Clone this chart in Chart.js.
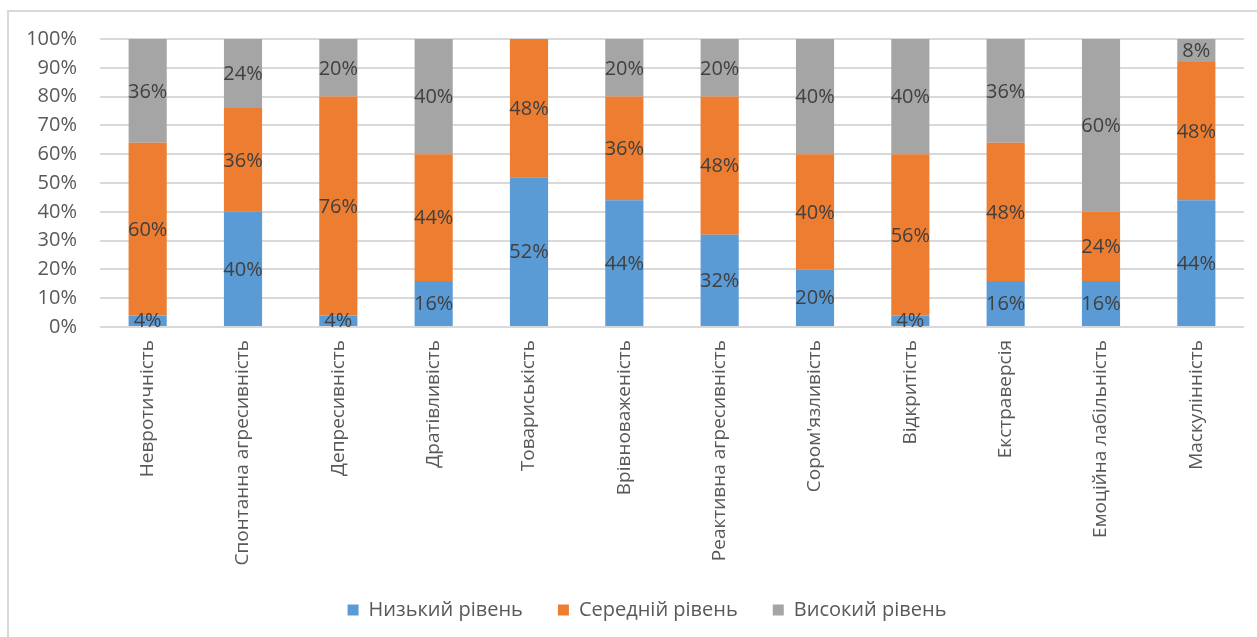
<!DOCTYPE html>
<html lang="uk">
<head>
<meta charset="utf-8">
<title>Рівні особистісних властивостей</title>
<script src="https://cdn.jsdelivr.net/npm/chart.js@4.4.1/dist/chart.umd.min.js"></script>
<style>
  html, body { margin: 0; padding: 0; background: #fff; }
  .stage { position: relative; width: 1257px; height: 637px; overflow: hidden; }
  /* Excel-style chart frame, only left/top edges fall inside the shot */
  .frame { position: absolute; left: 7px; top: 10px; width: 1400px; height: 800px;
           border-left: 2px solid #d9d9d9; border-top: 2px solid #d9d9d9; }
  #chart { position: absolute; left: 0; top: 0; }
</style>
</head>
<body>
<div class="stage">
  <div class="frame"></div>
  <canvas id="chart" width="1257" height="637"></canvas>
</div>
<script>
/* ── data ──────────────────────────────────────────────────────────────── */
const categories = [
  "Невротичність", "Спонтанна агресивність", "Депресивність", "Дратівливість",
  "Товариськість", "Врівноваженість", "Реактивна агресивність", "Сором'язливість",
  "Відкритість", "Екстраверсія", "Емоційна лабільність", "Маскулінність",
];
const seriesNames = ["Низький рівень", "Середній рівень", "Високий рівень"];
const lowLevel    = [4, 40, 4, 16, 52, 44, 32, 20, 4, 16, 16, 44];
const midLevel    = [60, 36, 76, 44, 48, 36, 48, 40, 56, 48, 24, 48];
const highLevel   = [36, 24, 20, 40, 0, 20, 20, 40, 40, 36, 60, 8];
const yTicks      = [0, 10, 20, 30, 40, 50, 60, 70, 80, 90, 100];

const colors = ["#5b9bd5", "#ed7d31", "#a5a5a5"];
const FONT = '"Open Sans", "DejaVu Sans", sans-serif';
const INK = "#595959";

/* value labels centred inside each stacked segment (no zero labels) */
const segmentLabels = {
  id: "segmentLabels",
  afterDatasetsDraw(chart) {
    const { ctx } = chart;
    ctx.save();
    ctx.font = `20px ${FONT}`;
    ctx.fillStyle = "#404040";
    ctx.textAlign = "center";
    ctx.textBaseline = "middle";
    chart.data.datasets.forEach((ds, i) => {
      chart.getDatasetMeta(i).data.forEach((bar, j) => {
        const v = ds.data[j];
        if (!v) return;
        const p = bar.getCenterPoint();
        ctx.fillText(v + "%", p.x, p.y + 1);
      });
    });
    ctx.restore();
  },
};

/* Excel centres the legend a bit right of the canvas middle */
const legendNudge = {
  id: "legendNudge",
  afterLayout(chart) {
    if (chart.legend) chart.legend.left += 50;
  },
};

new Chart(document.getElementById("chart"), {
  type: "bar",
  data: {
    labels: categories,
    datasets: [lowLevel, midLevel, highLevel].map((data, i) => ({
      label: seriesNames[i],
      data,
      backgroundColor: colors[i],
      borderWidth: 0,
      barPercentage: 0.4,
      categoryPercentage: 1,
    })),
  },
  options: {
    responsive: false,
    animation: false,
    layout: { padding: { top: 39, right: 13, bottom: 7, left: 0 } },
    plugins: {
      tooltip: { enabled: false },
      legend: {
        position: "bottom",
        labels: {
          color: INK,
          font: { family: FONT, size: 20 },
          boxWidth: 11,
          boxHeight: 11,
          padding: 35,
        },
      },
    },
    scales: {
      x: {
        stacked: true,
        grid: { display: false },
        border: { display: false },
        ticks: {
          color: INK,
          font: { family: FONT, size: 19 },
          minRotation: 90,
          maxRotation: 90,
          autoSkip: false,
          padding: 5,
        },
        afterFit(scale) { scale.height = 238; },
      },
      y: {
        stacked: true,
        min: 0,
        max: 100,
        afterBuildTicks(scale) { scale.ticks = yTicks.map((value) => ({ value })); },
        grid: { color: "#d9d9d9", lineWidth: 2, drawTicks: false },
        border: { display: false },
        ticks: {
          color: INK,
          font: { family: FONT, size: 20 },
          padding: 23,
          callback: (v) => v + "%",
        },
        afterFit(scale) { scale.width = 100; },
      },
    },
  },
  plugins: [segmentLabels, legendNudge],
});
</script>
</body>
</html>
